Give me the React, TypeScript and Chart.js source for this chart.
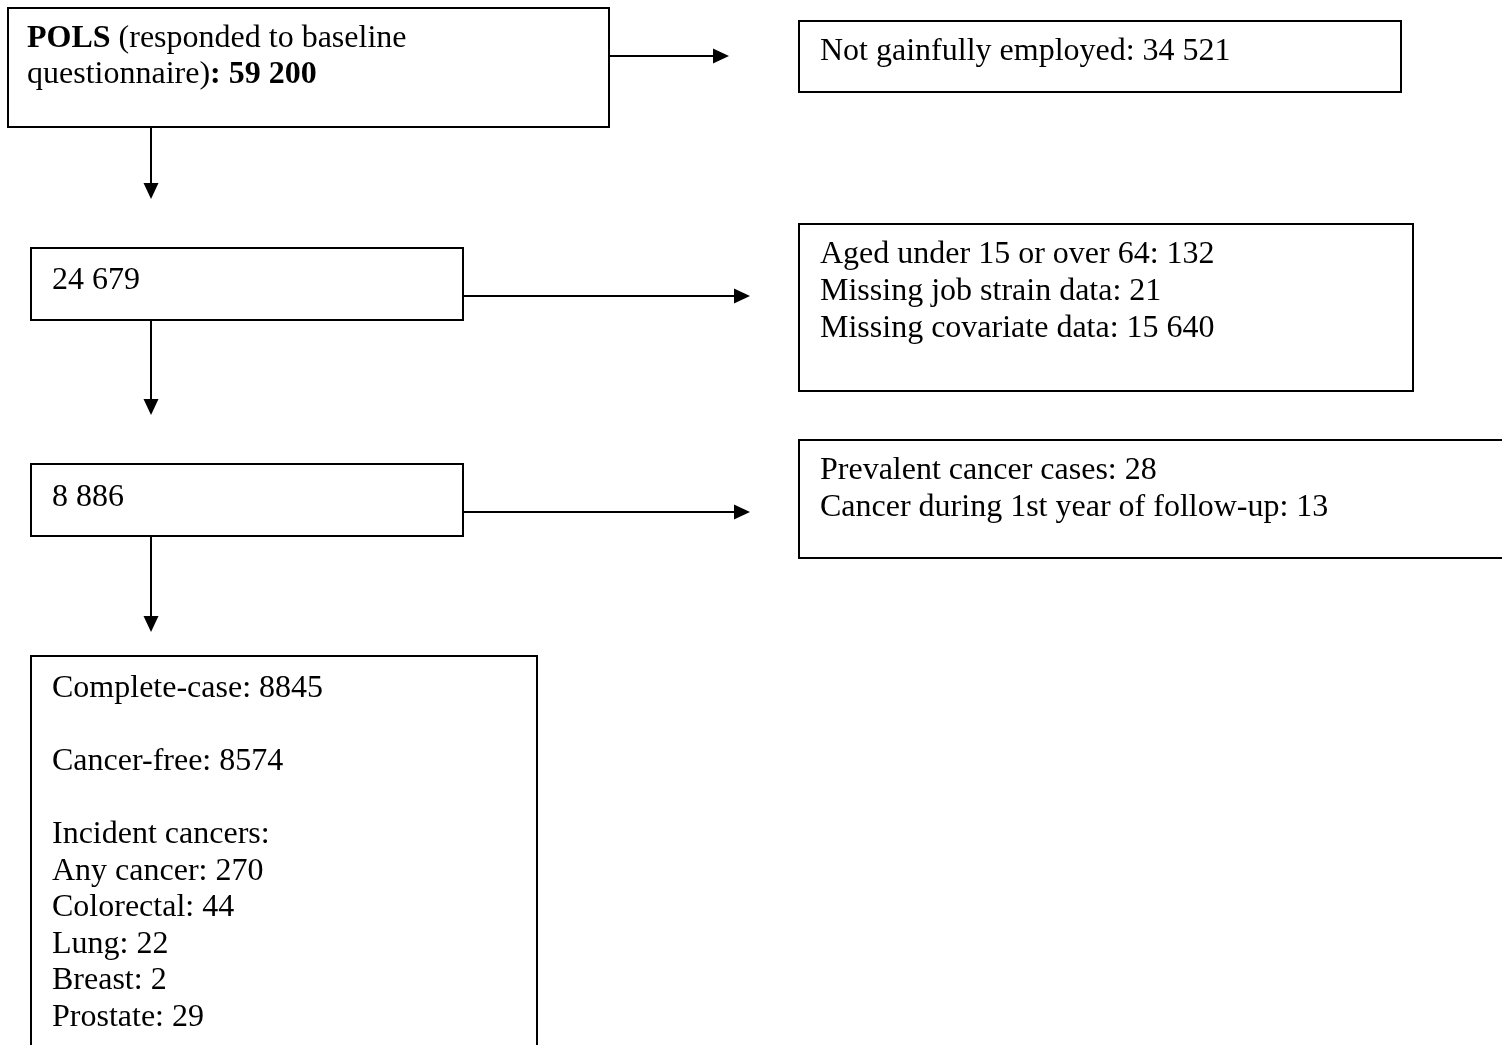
import React, { useEffect, useRef } from "react";
import { Chart, registerables } from "chart.js";

Chart.register(...registerables);

// ---- data ----
const cohortName = "POLS";
const cohortNote = "(responded to baseline";
const cohortNote2 = "questionnaire)";
const stageCounts = [59200, 24679, 8886];
const exclusion1Labels = ["Not gainfully employed"];
const exclusion1Values = [34521];
const exclusion2Labels = ["Aged under 15 or over 64", "Missing job strain data", "Missing covariate data"];
const exclusion2Values = [132, 21, 15640];
const exclusion3Labels = ["Prevalent cancer cases", "Cancer during 1st year of follow-up"];
const exclusion3Values = [28, 13];
const finalLabels = ["Complete-case", "Cancer-free"];
const finalValues = [8845, 8574];
const incidentHeader = "Incident cancers:";
const incidentLabels = ["Any cancer", "Colorectal", "Lung", "Breast", "Prostate"];
const incidentValues = [270, 44, 22, 2, 29];

// ---- helpers ----
const spaced = (n: number) => String(n).replace(/\B(?=(\d{3})+(?!\d))/g, " ");

type Seg = { t: string; bold?: boolean };
type Line = Seg[];

const plain = (t: string): Line => [{ t }];

const boxLines: Line[][] = [
  [
    [{ t: cohortName, bold: true }, { t: " " + cohortNote }],
    [{ t: cohortNote2 }, { t: ": " + spaced(stageCounts[0]), bold: true }],
  ],
  exclusion1Labels.map((l, i) => plain(`${l}: ${spaced(exclusion1Values[i])}`)),
  [plain(spaced(stageCounts[1]))],
  exclusion2Labels.map((l, i) => plain(`${l}: ${spaced(exclusion2Values[i])}`)),
  [plain(spaced(stageCounts[2]))],
  exclusion3Labels.map((l, i) => plain(`${l}: ${spaced(exclusion3Values[i])}`)),
  [
    plain(`${finalLabels[0]}: ${finalValues[0]}`),
    plain(""),
    plain(`${finalLabels[1]}: ${finalValues[1]}`),
    plain(""),
    plain(incidentHeader),
    ...incidentLabels.map((l, i) => plain(`${l}: ${incidentValues[i]}`)),
  ],
];

// ---- layout (page coordinates used as scale units) ----
const boxLayout = [
  { x0: 8, y0: 8, x1: 609, y1: 127, tx: 27, ty: 47, lh: 36 },
  { x0: 799, y0: 21, x1: 1401, y1: 92, tx: 820, ty: 60, lh: 36.5 },
  { x0: 31, y0: 248, x1: 463, y1: 320, tx: 52, ty: 289, lh: 36.5 },
  { x0: 799, y0: 224, x1: 1413, y1: 391, tx: 820, ty: 263, lh: 37 },
  { x0: 31, y0: 464, x1: 463, y1: 536, tx: 52, ty: 506, lh: 36.5 },
  { x0: 799, y0: 440, x1: 1512, y1: 558, tx: 820, ty: 479, lh: 37 },
  { x0: 31, y0: 656, x1: 537, y1: 1070, tx: 52, ty: 697, lh: 36.5 },
];

const arrowLayout = [
  { x0: 609, y0: 56, x1: 729, y1: 56 },
  { x0: 151, y0: 127, x1: 151, y1: 199 },
  { x0: 463, y0: 296, x1: 750, y1: 296 },
  { x0: 151, y0: 320, x1: 151, y1: 415 },
  { x0: 463, y0: 512, x1: 750, y1: 512 },
  { x0: 151, y0: 536, x1: 151, y1: 632 },
];

const FONT_FAMILY = "'Liberation Serif', 'Times New Roman', serif";
const FONT_SIZE = 32;

const flowPlugin = {
  id: "flowchart",
  afterDraw(chart: any) {
    const ctx: CanvasRenderingContext2D = chart.ctx;
    const xs = chart.scales.x;
    const ys = chart.scales.y;
    const px = (v: number) => xs.getPixelForValue(v);
    const py = (v: number) => ys.getPixelForValue(v);
    ctx.save();
    ctx.strokeStyle = "#000";
    ctx.fillStyle = "#000";
    ctx.lineWidth = 2;

    // boxes
    boxLayout.forEach((b, i) => {
      const x0 = px(b.x0), y0 = py(b.y0), x1 = px(b.x1), y1 = py(b.y1);
      ctx.strokeRect(x0, y0, x1 - x0, y1 - y0);
      ctx.textBaseline = "alphabetic";
      ctx.textAlign = "left";
      boxLines[i].forEach((line, li) => {
        let x = px(b.tx);
        const y = py(b.ty + li * b.lh);
        line.forEach((seg) => {
          ctx.font = `${seg.bold ? "bold " : ""}${FONT_SIZE}px ${FONT_FAMILY}`;
          ctx.fillText(seg.t, x, y);
          x += ctx.measureText(seg.t).width;
        });
      });
    });

    // arrows
    const headLen = 16;
    const headHalf = 7.5;
    arrowLayout.forEach((a) => {
      const x0 = px(a.x0), y0 = py(a.y0), x1 = px(a.x1), y1 = py(a.y1);
      const ang = Math.atan2(y1 - y0, x1 - x0);
      const bx = x1 - headLen * Math.cos(ang);
      const by = y1 - headLen * Math.sin(ang);
      ctx.beginPath();
      ctx.moveTo(x0, y0);
      ctx.lineTo(bx, by);
      ctx.stroke();
      ctx.beginPath();
      ctx.moveTo(x1, y1);
      ctx.lineTo(bx - headHalf * Math.sin(ang), by + headHalf * Math.cos(ang));
      ctx.lineTo(bx + headHalf * Math.sin(ang), by - headHalf * Math.cos(ang));
      ctx.closePath();
      ctx.fill();
    });
    ctx.restore();
  },
};

export default function App() {
  const ref = useRef<HTMLCanvasElement | null>(null);
  useEffect(() => {
    if (!ref.current) return;
    const chart = new Chart(ref.current, {
      type: "scatter",
      data: { datasets: [{ data: [], pointRadius: 0 }] },
      options: {
        animation: false,
        responsive: true,
        maintainAspectRatio: false,
        layout: { padding: 0 },
        plugins: { legend: { display: false }, tooltip: { enabled: false }, title: { display: false } },
        scales: {
          x: { type: "linear", min: 0, max: 1502, display: false },
          y: { type: "linear", min: 0, max: 1045, reverse: true, display: false },
        },
      },
      plugins: [flowPlugin],
    });
    return () => chart.destroy();
  }, []);
  return (
    <div style={{ position: "absolute", left: 0, top: 0, width: 1502, height: 1045, background: "#fff", overflow: "hidden" }}>
      <canvas ref={ref} />
    </div>
  );
}
